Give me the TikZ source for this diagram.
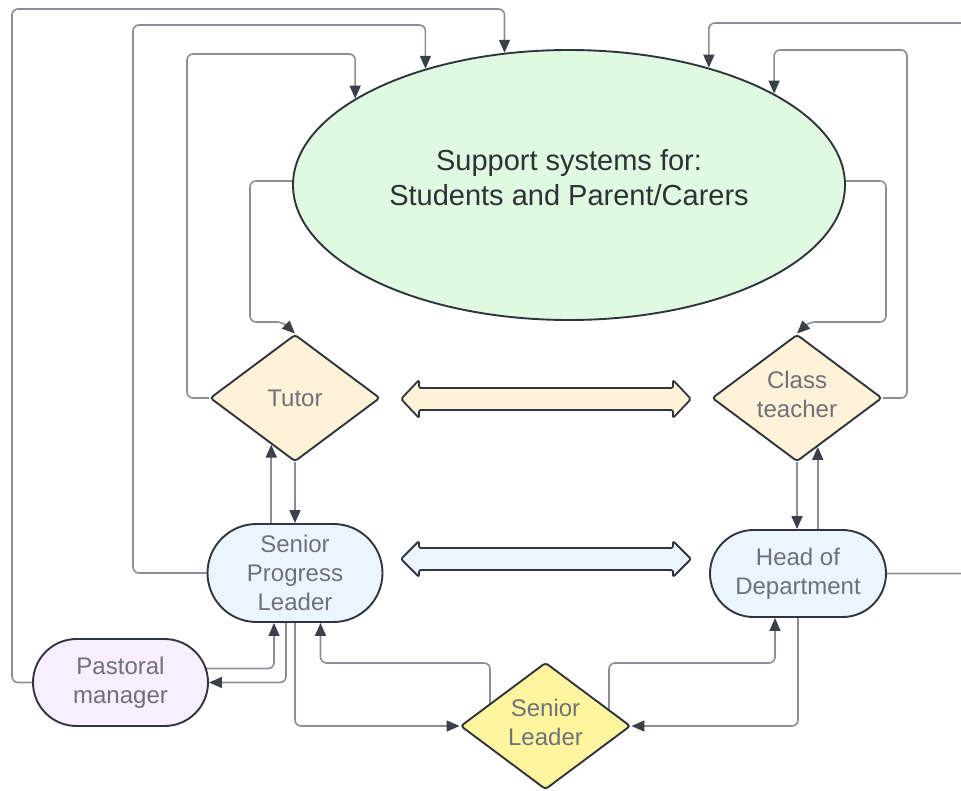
\documentclass[tikz,border=0pt]{standalone}
\usepackage{fontspec}
\setmainfont{Liberation Sans}
\usetikzlibrary{shapes.geometric,shapes.misc,arrows.meta,backgrounds}
\definecolor{linec}{HTML}{8A8F96}
\definecolor{tipc}{HTML}{3A414B}
\definecolor{edgec}{HTML}{2F353D}
\definecolor{txtg}{HTML}{6E7178}
\definecolor{txtd}{HTML}{2E3238}
\definecolor{greenf}{HTML}{E0F9E1}
\definecolor{orangef}{HTML}{FFF2D8}
\definecolor{bluef}{HTML}{EBF4FF}
\definecolor{purplef}{HTML}{F9EEFD}
\definecolor{yellowf}{HTML}{FFF59E}
\begin{document}
\begin{tikzpicture}[x=1pt,y=-1pt,
  shapeline/.style={draw=edgec,line width=1.9pt},
  dia/.style={shapeline,diamond,minimum width=170pt,minimum height=127pt,inner sep=0pt,aspect=1.34,rounded corners=3pt,text=txtg,font=\fontsize{24}{29}\selectfont,align=center},
  pill/.style={shapeline,rounded rectangle,inner sep=0pt,text=txtg,font=\fontsize{24}{29}\selectfont,align=center},
  conn/.style={draw=linec,line width=1.6pt,rounded corners=6pt},
  arr/.style={conn,-{Triangle[length=13pt,width=11pt,color=tipc]}},
  fatarrow/.style={draw=edgec,line width=1.8pt,rounded corners=2pt,line join=round}
]
\useasboundingbox (0,0) rectangle (961,790);
\node[shapeline,ellipse,fill=greenf,minimum width=552pt,minimum height=270pt,inner sep=0pt] (ell) at (569,185) {};
\node[text=txtd,font=\fontsize{29}{35}\selectfont,align=center] (elltext) at (569,178) {Support systems for:\\Students and Parent/Carers};
\node[dia,fill=orangef] (tutor) at (295,398) {Tutor};
\node[dia,fill=orangef,text depth=8pt] (ct) at (797,398) {Class\\teacher};
\node[pill,fill=bluef,minimum width=175pt,minimum height=98pt] (spl) at (295,573) {Senior\\Progress\\Leader};
\node[pill,fill=bluef,minimum width=176pt,minimum height=87pt] (hod) at (798,573.5) {Head of\\Department};
\node[pill,fill=purplef,minimum width=175pt,minimum height=87pt] (pm) at (120.5,682.5) {Pastoral\\manager};
\node[dia,fill=yellowf,text depth=8pt] (sl) at (545.5,726) {Senior\\Leader};
\draw[fatarrow,fill=orangef] (401,399) -- (419,380) -- (419,388) -- (673,388) -- (673,380) -- (691,399) -- (673,418) -- (673,410) -- (419,410) -- (419,418) -- cycle;
\draw[fatarrow,fill=bluef] (401,559) -- (419,541) -- (419,548) -- (673,548) -- (673,541) -- (691,559) -- (673,577) -- (673,570) -- (419,570) -- (419,577) -- cycle;
\begin{scope}[on background layer]
\clip (0,0) rectangle (961,790);
\draw[arr] (pm.west) -| (12,9) -| (ell.116.7);
\draw[arr] (spl.west) -| (133,25) -| (ell.141.3);
\draw[arr] (tutor.west) -| (187,54) -| (ell.158);
\draw[arr] ([yshift=4pt]ell.west) -| (250,322) -- (283,322) -- (tutor.north);
\draw[arr] ([yshift=4pt]ell.east) -| (886,322) -- (809,322) -- (ct.north);
\draw[arr] (ct.east) -| (907,50) -| (ell.24.3);
\draw[arr] (hod.east) -| (985,23) -| (ell.40.8);
\draw[arr] (tutor.243.7 |- spl.north) -- (tutor.243.7);
\draw[arr] (tutor.south) -- (spl.north);
\draw[arr] (ct.293.7 |- hod.north) -- (ct.293.7);
\draw[arr] (ct.south) -- (ct.south |- hod.north);
\draw[arr] ([xshift=-5pt,yshift=14pt]pm.east) -| ([xshift=-21pt]spl.south);
\draw[arr] ([xshift=-9pt]spl.south) |- (pm.east);
\draw[arr] (spl.south) |- (sl.west);
\draw[arr] ([xshift=-55.5pt]sl.center) -- ++(0,-63) -| ([xshift=25.5pt]spl.south);
\draw[arr] ([xshift=63.5pt]sl.center) -- ++(0,-63) -| ([xshift=-23pt]hod.south);
\draw[arr] (hod.south) |- (sl.east);
\end{scope}
\end{tikzpicture}
\end{document}
